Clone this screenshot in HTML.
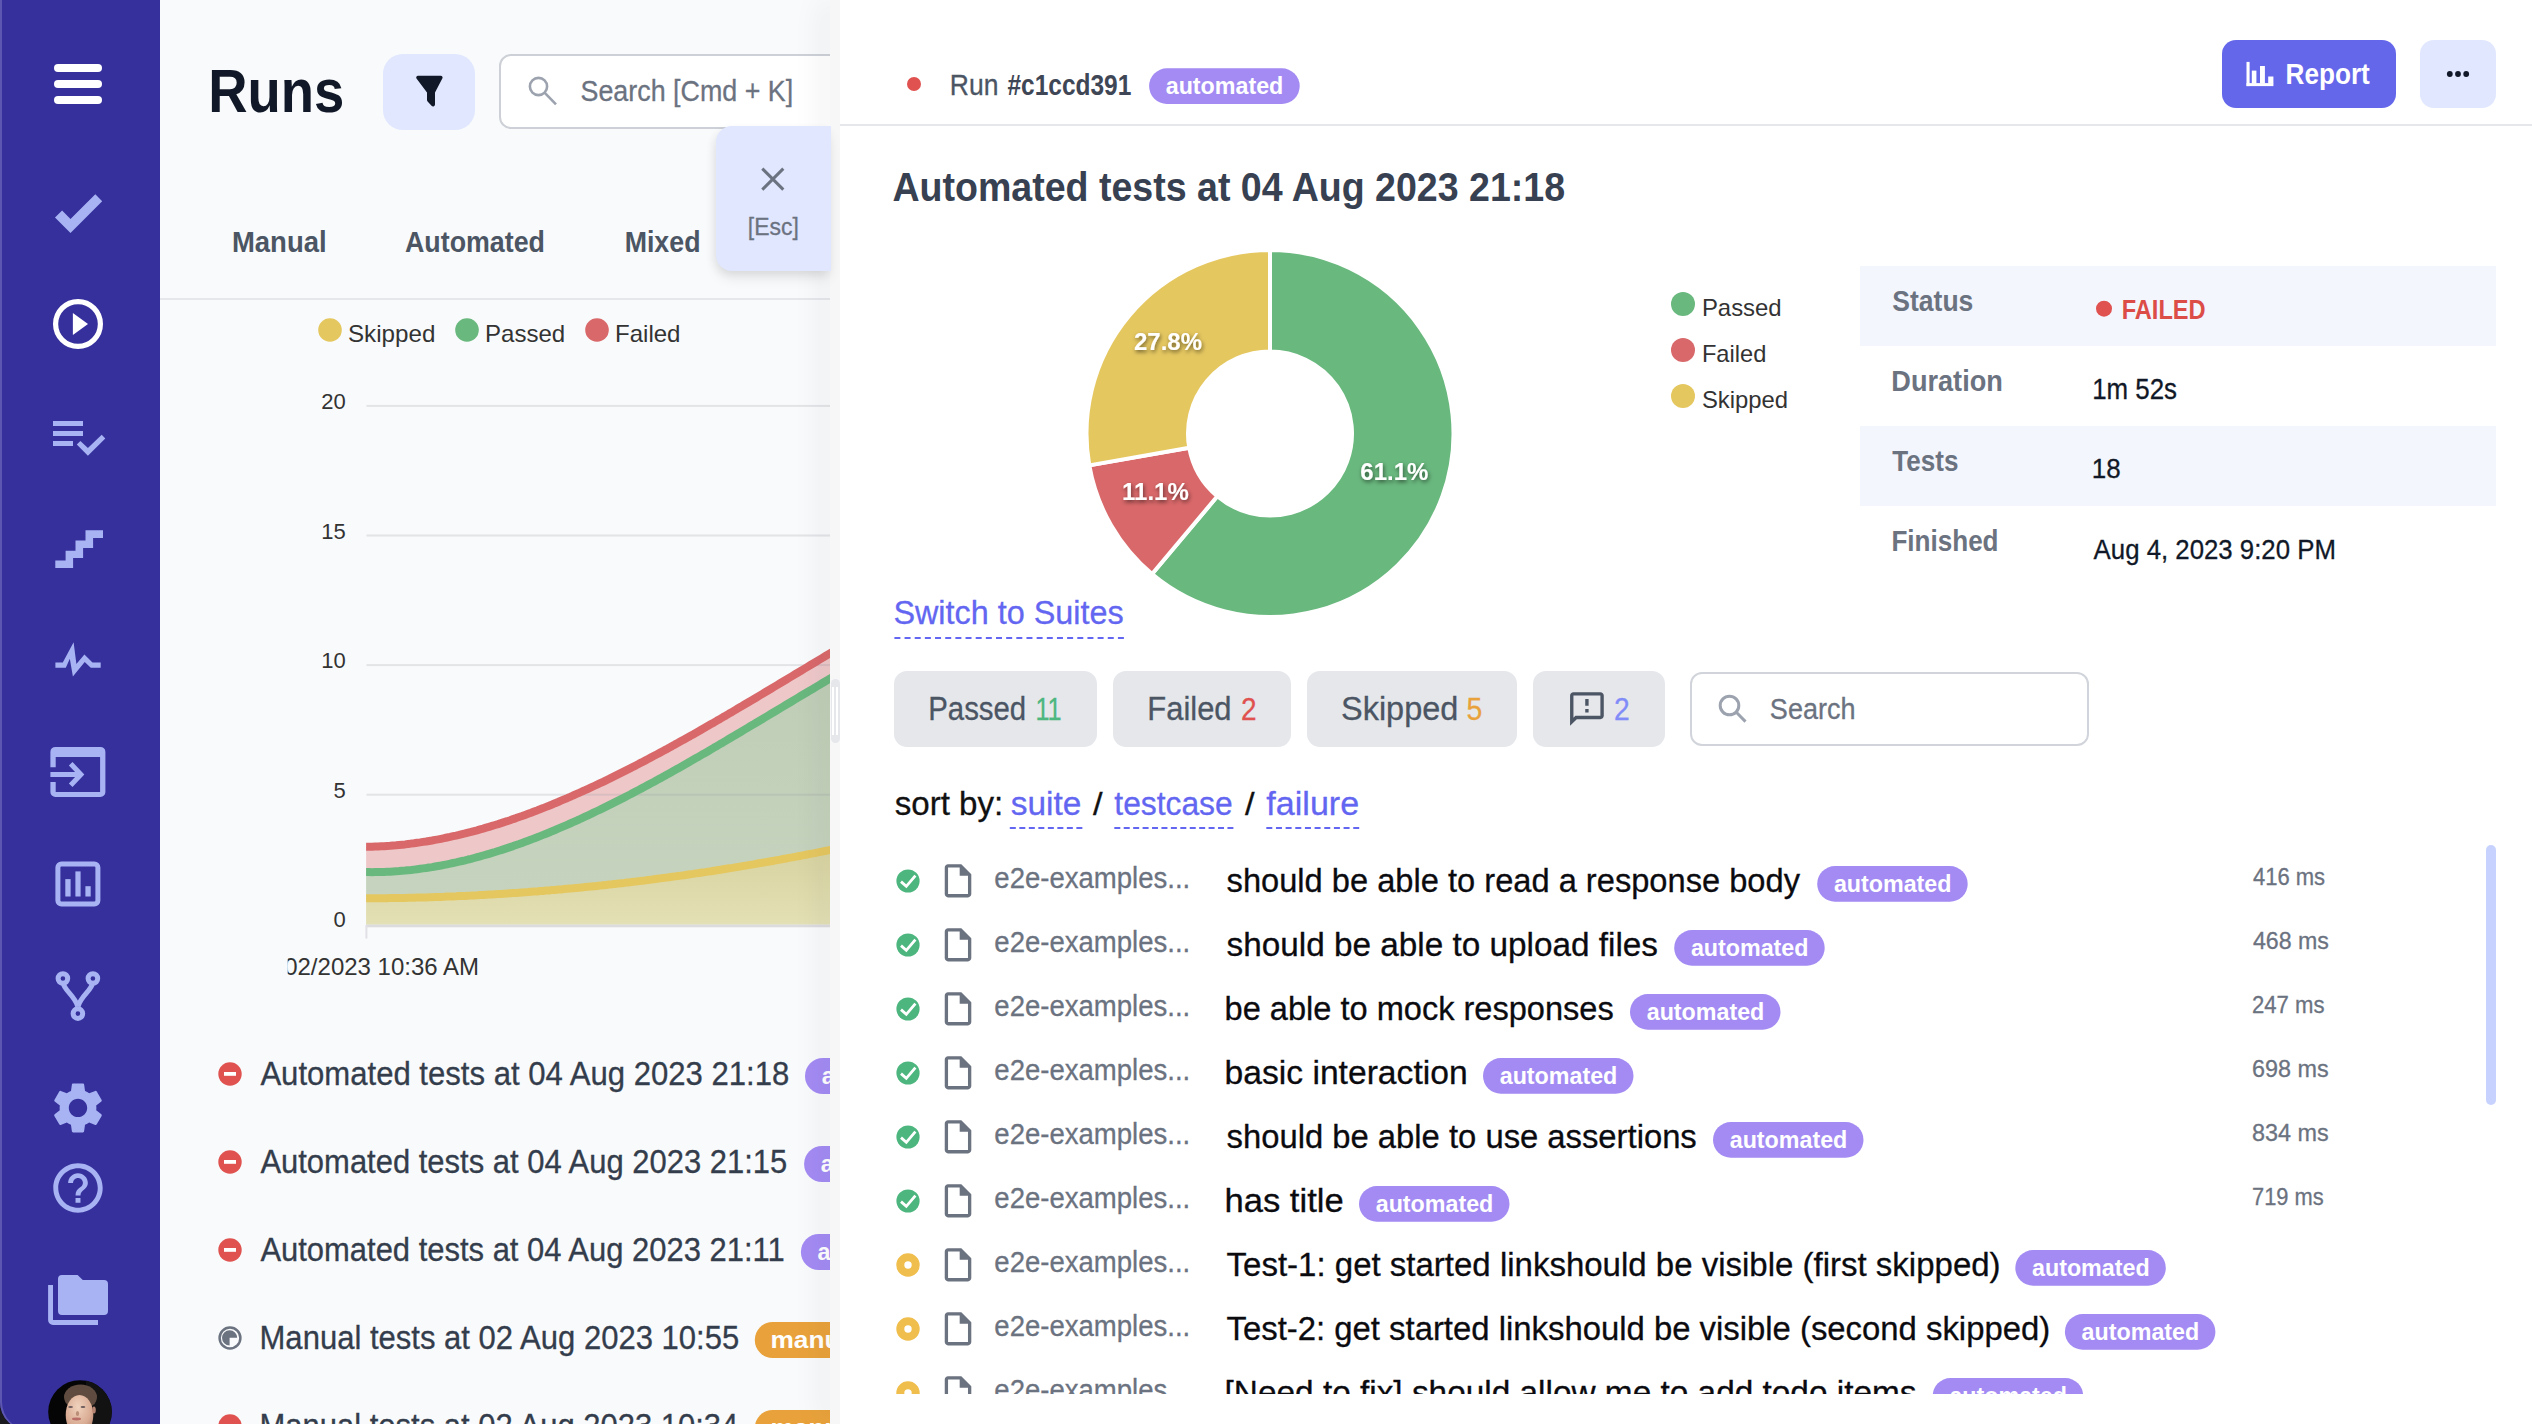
<!DOCTYPE html>
<html lang="en"><head><meta charset="utf-8"><title>Runs</title><style>
html,body{margin:0;padding:0;background:#fff;}
body{width:2532px;height:1424px;overflow:hidden;font-family:"Liberation Sans", Arial, Helvetica, sans-serif;}
#app{position:relative;width:2532px;height:1424px;overflow:hidden;background:#1b1b1f;}
.abs{position:absolute;}
.ov{position:absolute;left:0;top:0;overflow:hidden;}
.ov text{font-family:"Liberation Sans", Arial, Helvetica, sans-serif;}
#sidebar{position:absolute;left:0;top:0;width:160px;height:1430px;background:#36309c;border-bottom-left-radius:28px;overflow:hidden;box-shadow:inset 2px 0 0 #5d57b2;}
#main{position:absolute;left:160px;top:0;width:670px;height:1424px;background:#f9fafb;overflow:hidden;}
#strip{position:absolute;left:830px;top:0;width:10px;height:1424px;background:#f7f7f8;box-shadow:-6px 0 30px rgba(40,40,60,0.11);}
#drawer{position:absolute;left:840px;top:0;width:1692px;height:1424px;background:#fff;overflow:hidden;}
</style></head><body><div id="app"><div id="sidebar"><svg class="ov" width="160" height="1424" viewBox="0 0 160 1424"><line x1="58" y1="68" x2="98" y2="68" stroke="#fff" stroke-width="8" stroke-linecap="round"/><line x1="58" y1="84" x2="98" y2="84" stroke="#fff" stroke-width="8" stroke-linecap="round"/><line x1="58" y1="100" x2="98" y2="100" stroke="#fff" stroke-width="8" stroke-linecap="round"/><polygon points="55,217.5 62.1,210.6 70.5,218.9 95.3,194.2 102.2,201.3 70.5,233" fill="#a8b3f3"/><circle cx="78" cy="324" r="22.4" fill="none" stroke="#fff" stroke-width="5.2"/><polygon points="72.9,312.9 88,323.9 72.9,335.1" fill="#fff"/><rect x="53" y="421" width="30" height="5" fill="#a8b3f3"/><rect x="53" y="431" width="30" height="5" fill="#a8b3f3"/><rect x="53" y="441" width="20" height="5" fill="#a8b3f3"/><polygon points="76.8,444.4 80.4,440.9 87.9,448 101.7,434.8 105.3,438.4 87.9,455.8" fill="#a8b3f3"/><polygon points="55.3,560.5 65.6,560.5 65.6,550.7 75.5,550.7 75.5,540.6 85.5,540.6 85.5,530.3 103,530.3 103,538 93.1,538 93.1,548 83.1,548 83.1,558 73.1,558 73.1,568 55.3,568" fill="#a8b3f3"/><polygon points="55.4,662.4 62.8,662.4 73.6,642.2 76.4,664.1 84.4,654.4 92.5,662.4 100.7,662.4 100.7,667.8 90.8,667.8 84.7,661.9 72.9,676.5 69.8,658.8 65.8,667.8 55.4,667.8" fill="#a8b3f3"/><path d="M50.4,767.3 V751.9 a5,5 0 0 1 5,-5 H100.4 a5,5 0 0 1 5,5 V792 a5,5 0 0 1 -5,5 H55.4 a5,5 0 0 1 -5,-5 V782 h5.3 v10 H100.1 V757 H55.7 v10.3 z" fill="#a8b3f3"/><rect x="50.4" y="772" width="30" height="5" fill="#a8b3f3"/><polyline points="70.7,763.7 80.9,774.5 70.7,785.3" fill="none" stroke="#a8b3f3" stroke-width="5" stroke-linejoin="miter" stroke-miterlimit="4"/><rect x="57.9" y="863.9" width="40" height="40.1" rx="3.5" fill="none" stroke="#a8b3f3" stroke-width="5"/><rect x="65.3" y="879.1" width="5.3" height="17.4" fill="#a8b3f3"/><rect x="75.4" y="871.4" width="5.2" height="25.1" fill="#a8b3f3"/><rect x="85.4" y="886.2" width="5.3" height="10.3" fill="#a8b3f3"/><g fill="none" stroke="#a8b3f3" stroke-width="5"><circle cx="62.9" cy="978.5" r="4.8"/><circle cx="92.9" cy="978.5" r="4.8"/><circle cx="77.9" cy="1013.6" r="4.8"/><path d="M63.4,983.5 C64,990 75,996 77.8,1006.5"/><path d="M92.4,983.5 C91.8,990 80.8,996 78,1006.5"/></g><path transform="translate(78 1107.9) scale(2.55) translate(-12 -12)" d="M19.14,12.94c0.04-0.3,0.06-0.61,0.06-0.94c0-0.32-0.02-0.64-0.07-0.94l2.03-1.58c0.18-0.14,0.23-0.41,0.12-0.61 l-1.92-3.32c-0.12-0.22-0.37-0.29-0.59-0.22l-2.39,0.96c-0.5-0.38-1.03-0.7-1.62-0.94L14.4,2.81c-0.04-0.24-0.24-0.41-0.48-0.41 h-3.84c-0.24,0-0.43,0.17-0.47,0.41L9.25,5.35C8.66,5.59,8.12,5.92,7.63,6.29L5.24,5.33c-0.22-0.08-0.47,0-0.59,0.22L2.74,8.87 C2.62,9.08,2.66,9.34,2.86,9.48l2.03,1.58C4.84,11.36,4.8,11.69,4.8,12s0.02,0.64,0.07,0.94l-2.03,1.58 c-0.18,0.14-0.23,0.41-0.12,0.61l1.92,3.32c0.12,0.22,0.37,0.29,0.59,0.22l2.39-0.96c0.5,0.38,1.03,0.7,1.62,0.94l0.36,2.54 c0.05,0.24,0.24,0.41,0.48,0.41h3.84c0.24,0,0.44-0.17,0.47-0.41l0.36-2.54c0.59-0.24,1.13-0.56,1.62-0.94l2.39,0.96 c0.22,0.08,0.47,0,0.59-0.22l1.92-3.32c0.12-0.22,0.07-0.47-0.12-0.61L19.14,12.94z M12,15.6c-1.98,0-3.6-1.62-3.6-3.6 s1.62-3.6,3.6-3.6s3.6,1.62,3.6,3.6S13.98,15.6,12,15.6z" fill="#a8b3f3"/><path transform="translate(78 1188) scale(2.47) translate(-12 -12)" d="M11 18h2v-2h-2v2zm1-16C6.48 2 2 6.48 2 12s4.48 10 10 10 10-4.48 10-10S17.52 2 12 2zm0 18c-4.41 0-8-3.59-8-8s3.59-8 8-8 8 3.59 8 8-3.59 8-8 8zm0-14c-2.21 0-4 1.79-4 4h2c0-1.1.9-2 2-2s2 .9 2 2c0 2-3 1.75-3 5h2c0-2.25 3-2.5 3-5 0-2.21-1.79-4-4-4z" fill="#a8b3f3"/><path d="M62,1274.9 H77.6 L82.8,1279.9 H104 a4,4 0 0 1 4,4 V1311 a4,4 0 0 1 -4,4 H62 a4,4 0 0 1 -4,-4 V1278.9 a4,4 0 0 1 4,-4 z" fill="#a8b3f3"/><path d="M48.1,1285 H53 V1320 H98 V1324.9 H53 a4.9,4.9 0 0 1 -4.9,-4.9 z" fill="#a8b3f3"/><clipPath id="avc"><circle cx="80" cy="1412" r="31.8"/></clipPath><radialGradient id="skin" cx="0.45" cy="0.3" r="0.8"><stop offset="0" stop-color="#f0d2bd"/><stop offset="0.6" stop-color="#d9ab93"/><stop offset="1" stop-color="#a87a66"/></radialGradient><g clip-path="url(#avc)"><rect x="40" y="1375" width="80" height="60" fill="#050505"/><rect x="86" y="1375" width="34" height="60" fill="#121212"/><ellipse cx="80.5" cy="1397" rx="16.5" ry="12.5" fill="#5f4b3f"/><ellipse cx="79.5" cy="1415" rx="13.8" ry="20" fill="url(#skin)"/><path d="M65,1398 Q70,1386 81,1387 Q93,1388 96,1400 L94,1405 Q92,1395 84,1393 Q74,1392 67,1399 z" fill="#5f4b3f"/><ellipse cx="70.6" cy="1407" rx="2.4" ry="1.1" fill="#6a5a5a"/><ellipse cx="83" cy="1407" rx="2.4" ry="1.1" fill="#6a5a5a"/><ellipse cx="77.5" cy="1413.5" rx="1.6" ry="2.6" fill="#a6765f" opacity="0.7"/><ellipse cx="76.5" cy="1419" rx="4.6" ry="1.4" fill="#b96f68"/><ellipse cx="94" cy="1410" rx="1.8" ry="3.5" fill="#b58472"/></g></svg></div>
<div id="main"><div class="abs" style="left:223.0px;top:54.0px;width:92.0px;height:76.0px;background:#e0e7ff;border-radius:20px;"></div><div class="abs" style="left:339.2px;top:54.2px;width:380.8px;height:75.1px;background:#fff;border:2px solid #cdd1d7;border-radius:12px;box-sizing:border-box;"></div><div class="abs" style="left:0.0px;top:298.2px;width:670.0px;height:2.0px;background:#e5e7eb;"></div><svg class="ov" width="670" height="1424" viewBox="160 0 670 1424"><path d="M416.5,78.5 a1.8,1.8 0 0 1 1.5,-2.8 H440.8 a1.8,1.8 0 0 1 1.5,2.8 L435,92.6 V104.5 a2,2 0 0 1 -3.2,1.6 L427.6,101.5 a2,2 0 0 1 -0.6,-1.4 V92.6 z" fill="#111827"/><g fill="none" stroke="#9ca3af" stroke-width="2.6"><circle cx="538.5" cy="86.5" r="8.6"/><line x1="544.8" y1="92.8" x2="556" y2="104.3"/></g><text x="580.47" y="101.10" font-size="28.84" fill="#6b7280" textLength="212.80" lengthAdjust="spacingAndGlyphs" stroke="#6b7280" stroke-width="0.3">Search [Cmd + K]</text><text x="208.28" y="112.00" font-size="61.8" fill="#111827" font-weight="700" textLength="136.11" lengthAdjust="spacingAndGlyphs">Runs</text><text x="231.95" y="252.40" font-size="28.84" fill="#4b5563" font-weight="700" textLength="94.67" lengthAdjust="spacingAndGlyphs">Manual</text><text x="405.00" y="252.40" font-size="28.84" fill="#4b5563" font-weight="700" textLength="139.90" lengthAdjust="spacingAndGlyphs">Automated</text><text x="624.67" y="252.40" font-size="28.84" fill="#4b5563" font-weight="700" textLength="75.82" lengthAdjust="spacingAndGlyphs">Mixed</text><circle cx="330" cy="330" r="11.8" fill="#e5c760"/><text x="347.99" y="342.00" font-size="24" fill="#333" textLength="87.36" lengthAdjust="spacingAndGlyphs">Skipped</text><circle cx="467" cy="330" r="11.8" fill="#69b87e"/><text x="485.00" y="342.00" font-size="24" fill="#333" textLength="80.15" lengthAdjust="spacingAndGlyphs">Passed</text><circle cx="597" cy="330" r="11.8" fill="#d9686a"/><text x="615.00" y="342.00" font-size="24" fill="#333" textLength="65.45" lengthAdjust="spacingAndGlyphs">Failed</text><text x="345.70" y="409.00" font-size="22" fill="#333" text-anchor="end">20</text><text x="345.70" y="538.60" font-size="22" fill="#333" text-anchor="end">15</text><text x="345.70" y="668.20" font-size="22" fill="#333" text-anchor="end">10</text><text x="345.70" y="797.80" font-size="22" fill="#333" text-anchor="end">5</text><text x="345.70" y="927.40" font-size="22" fill="#333" text-anchor="end">0</text><polygon points="366.1,846.8 369.1,846.8 372.1,846.7 375.1,846.6 378.1,846.5 381.1,846.3 384.1,846.2 387.1,846.0 390.1,845.8 393.1,845.5 396.1,845.3 399.1,845.0 402.1,844.7 405.1,844.4 408.1,844.0 411.1,843.6 414.1,843.3 417.1,842.8 420.1,842.4 423.1,841.9 426.1,841.5 429.1,841.0 432.1,840.5 435.1,839.9 438.1,839.4 441.1,838.8 444.1,838.2 447.1,837.5 450.1,836.9 453.1,836.2 456.1,835.6 459.1,834.9 462.1,834.1 465.1,833.4 468.1,832.6 471.1,831.9 474.1,831.1 477.1,830.3 480.1,829.4 483.1,828.6 486.1,827.7 489.1,826.8 492.1,825.9 495.1,825.0 498.1,824.1 501.1,823.1 504.1,822.1 507.1,821.2 510.1,820.2 513.1,819.1 516.1,818.1 519.1,817.0 522.1,816.0 525.1,814.9 528.1,813.8 531.1,812.7 534.1,811.5 537.1,810.4 540.1,809.2 543.1,808.1 546.1,806.9 549.1,805.7 552.1,804.5 555.1,803.2 558.1,802.0 561.1,800.7 564.1,799.4 567.1,798.2 570.1,796.9 573.1,795.5 576.1,794.2 579.1,792.9 582.1,791.5 585.1,790.2 588.1,788.8 591.1,787.4 594.1,786.0 597.1,784.6 600.1,783.2 603.1,781.8 606.1,780.3 609.1,778.9 612.1,777.4 615.1,775.9 618.1,774.4 621.1,772.9 624.1,771.4 627.1,769.9 630.1,768.4 633.1,766.8 636.1,765.3 639.1,763.7 642.1,762.2 645.1,760.6 648.1,759.0 651.1,757.4 654.1,755.8 657.1,754.2 660.1,752.6 663.1,751.0 666.1,749.4 669.1,747.7 672.1,746.1 675.1,744.4 678.1,742.8 681.1,741.1 684.1,739.4 687.1,737.7 690.1,736.1 693.1,734.4 696.1,732.7 699.1,731.0 702.1,729.2 705.1,727.5 708.1,725.8 711.1,724.1 714.1,722.4 717.1,720.6 720.1,718.9 723.1,717.1 726.1,715.4 729.1,713.6 732.1,711.9 735.1,710.1 738.1,708.3 741.1,706.6 744.1,704.8 747.1,703.0 750.1,701.2 753.1,699.5 756.1,697.7 759.1,695.9 762.1,694.1 765.1,692.3 768.1,690.5 771.1,688.7 774.1,686.9 777.1,685.1 780.1,683.3 783.1,681.5 786.1,679.7 789.1,677.9 792.1,676.1 795.1,674.3 798.1,672.5 801.1,670.7 804.1,668.9 807.1,667.1 810.1,665.3 813.1,663.5 816.1,661.7 819.1,659.9 822.1,658.1 825.1,656.3 828.1,654.5 831.1,652.7 834.1,650.9 836.0,649.8 836.0,675.1 834.1,676.2 831.1,678.0 828.1,679.8 825.1,681.5 822.1,683.3 819.1,685.1 816.1,686.9 813.1,688.7 810.1,690.4 807.1,692.2 804.1,694.0 801.1,695.8 798.1,697.6 795.1,699.4 792.1,701.2 789.1,703.0 786.1,704.8 783.1,706.6 780.1,708.4 777.1,710.2 774.1,712.0 771.1,713.8 768.1,715.6 765.1,717.4 762.1,719.2 759.1,721.0 756.1,722.8 753.1,724.6 750.1,726.3 747.1,728.1 744.1,729.9 741.1,731.7 738.1,733.5 735.1,735.3 732.1,737.0 729.1,738.8 726.1,740.6 723.1,742.4 720.1,744.1 717.1,745.9 714.1,747.6 711.1,749.4 708.1,751.2 705.1,752.9 702.1,754.6 699.1,756.4 696.1,758.1 693.1,759.8 690.1,761.5 687.1,763.3 684.1,765.0 681.1,766.7 678.1,768.4 675.1,770.0 672.1,771.7 669.1,773.4 666.1,775.1 663.1,776.7 660.1,778.4 657.1,780.0 654.1,781.7 651.1,783.3 648.1,784.9 645.1,786.5 642.1,788.1 639.1,789.7 636.1,791.3 633.1,792.9 630.1,794.5 627.1,796.0 624.1,797.6 621.1,799.1 618.1,800.6 615.1,802.1 612.1,803.6 609.1,805.1 606.1,806.6 603.1,808.1 600.1,809.6 597.1,811.0 594.1,812.4 591.1,813.9 588.1,815.3 585.1,816.7 582.1,818.1 579.1,819.5 576.1,820.8 573.1,822.2 570.1,823.5 567.1,824.8 564.1,826.1 561.1,827.4 558.1,828.7 555.1,830.0 552.1,831.2 549.1,832.5 546.1,833.7 543.1,834.9 540.1,836.1 537.1,837.3 534.1,838.4 531.1,839.6 528.1,840.7 525.1,841.8 522.1,842.9 519.1,844.0 516.1,845.0 513.1,846.1 510.1,847.1 507.1,848.1 504.1,849.1 501.1,850.1 498.1,851.0 495.1,852.0 492.1,852.9 489.1,853.8 486.1,854.7 483.1,855.5 480.1,856.4 477.1,857.2 474.1,858.0 471.1,858.8 468.1,859.5 465.1,860.3 462.1,861.0 459.1,861.7 456.1,862.4 453.1,863.0 450.1,863.7 447.1,864.3 444.1,864.9 441.1,865.5 438.1,866.0 435.1,866.5 432.1,867.1 429.1,867.5 426.1,868.0 423.1,868.4 420.1,868.8 417.1,869.2 414.1,869.6 411.1,870.0 408.1,870.3 405.1,870.6 402.1,870.8 399.1,871.1 396.1,871.3 393.1,871.5 390.1,871.7 387.1,871.8 384.1,871.9 381.1,872.0 378.1,872.1 375.1,872.1 372.1,872.2 369.1,872.1 366.1,872.1" fill="#eec8c9"/><linearGradient id="gbe" gradientUnits="userSpaceOnUse" x1="0" y1="845" x2="0" y2="925"><stop offset="0" stop-color="#d7d29f"/><stop offset="1" stop-color="#e3e0b5"/></linearGradient><linearGradient id="ggr" gradientUnits="userSpaceOnUse" x1="0" y1="660" x2="0" y2="900"><stop offset="0" stop-color="#bfcdb6"/><stop offset="1" stop-color="#c6d4bf"/></linearGradient><polygon points="366.1,872.1 369.1,872.1 372.1,872.2 375.1,872.1 378.1,872.1 381.1,872.0 384.1,871.9 387.1,871.8 390.1,871.7 393.1,871.5 396.1,871.3 399.1,871.1 402.1,870.8 405.1,870.6 408.1,870.3 411.1,870.0 414.1,869.6 417.1,869.2 420.1,868.8 423.1,868.4 426.1,868.0 429.1,867.5 432.1,867.1 435.1,866.5 438.1,866.0 441.1,865.5 444.1,864.9 447.1,864.3 450.1,863.7 453.1,863.0 456.1,862.4 459.1,861.7 462.1,861.0 465.1,860.3 468.1,859.5 471.1,858.8 474.1,858.0 477.1,857.2 480.1,856.4 483.1,855.5 486.1,854.7 489.1,853.8 492.1,852.9 495.1,852.0 498.1,851.0 501.1,850.1 504.1,849.1 507.1,848.1 510.1,847.1 513.1,846.1 516.1,845.0 519.1,844.0 522.1,842.9 525.1,841.8 528.1,840.7 531.1,839.6 534.1,838.4 537.1,837.3 540.1,836.1 543.1,834.9 546.1,833.7 549.1,832.5 552.1,831.2 555.1,830.0 558.1,828.7 561.1,827.4 564.1,826.1 567.1,824.8 570.1,823.5 573.1,822.2 576.1,820.8 579.1,819.5 582.1,818.1 585.1,816.7 588.1,815.3 591.1,813.9 594.1,812.4 597.1,811.0 600.1,809.6 603.1,808.1 606.1,806.6 609.1,805.1 612.1,803.6 615.1,802.1 618.1,800.6 621.1,799.1 624.1,797.6 627.1,796.0 630.1,794.5 633.1,792.9 636.1,791.3 639.1,789.7 642.1,788.1 645.1,786.5 648.1,784.9 651.1,783.3 654.1,781.7 657.1,780.0 660.1,778.4 663.1,776.7 666.1,775.1 669.1,773.4 672.1,771.7 675.1,770.0 678.1,768.4 681.1,766.7 684.1,765.0 687.1,763.3 690.1,761.5 693.1,759.8 696.1,758.1 699.1,756.4 702.1,754.6 705.1,752.9 708.1,751.2 711.1,749.4 714.1,747.6 717.1,745.9 720.1,744.1 723.1,742.4 726.1,740.6 729.1,738.8 732.1,737.0 735.1,735.3 738.1,733.5 741.1,731.7 744.1,729.9 747.1,728.1 750.1,726.3 753.1,724.6 756.1,722.8 759.1,721.0 762.1,719.2 765.1,717.4 768.1,715.6 771.1,713.8 774.1,712.0 777.1,710.2 780.1,708.4 783.1,706.6 786.1,704.8 789.1,703.0 792.1,701.2 795.1,699.4 798.1,697.6 801.1,695.8 804.1,694.0 807.1,692.2 810.1,690.4 813.1,688.7 816.1,686.9 819.1,685.1 822.1,683.3 825.1,681.5 828.1,679.8 831.1,678.0 834.1,676.2 836.0,675.1 836.0,848.8 834.1,849.1 831.1,849.8 828.1,850.4 825.1,851.0 822.1,851.6 819.1,852.2 816.1,852.8 813.1,853.4 810.1,853.9 807.1,854.5 804.1,855.1 801.1,855.7 798.1,856.2 795.1,856.8 792.1,857.4 789.1,857.9 786.1,858.5 783.1,859.0 780.1,859.6 777.1,860.1 774.1,860.7 771.1,861.2 768.1,861.7 765.1,862.3 762.1,862.8 759.1,863.3 756.1,863.8 753.1,864.4 750.1,864.9 747.1,865.4 744.1,865.9 741.1,866.4 738.1,866.9 735.1,867.4 732.1,867.9 729.1,868.3 726.1,868.8 723.1,869.3 720.1,869.8 717.1,870.2 714.1,870.7 711.1,871.2 708.1,871.6 705.1,872.1 702.1,872.5 699.1,873.0 696.1,873.4 693.1,873.9 690.1,874.3 687.1,874.7 684.1,875.2 681.1,875.6 678.1,876.0 675.1,876.4 672.1,876.8 669.1,877.2 666.1,877.6 663.1,878.0 660.1,878.4 657.1,878.8 654.1,879.2 651.1,879.6 648.1,880.0 645.1,880.4 642.1,880.7 639.1,881.1 636.1,881.5 633.1,881.8 630.1,882.2 627.1,882.5 624.1,882.9 621.1,883.2 618.1,883.6 615.1,883.9 612.1,884.3 609.1,884.6 606.1,884.9 603.1,885.2 600.1,885.6 597.1,885.9 594.1,886.2 591.1,886.5 588.1,886.8 585.1,887.1 582.1,887.4 579.1,887.7 576.1,888.0 573.1,888.3 570.1,888.5 567.1,888.8 564.1,889.1 561.1,889.4 558.1,889.6 555.1,889.9 552.1,890.1 549.1,890.4 546.1,890.6 543.1,890.9 540.1,891.1 537.1,891.4 534.1,891.6 531.1,891.8 528.1,892.1 525.1,892.3 522.1,892.5 519.1,892.7 516.1,892.9 513.1,893.1 510.1,893.3 507.1,893.5 504.1,893.7 501.1,893.9 498.1,894.1 495.1,894.3 492.1,894.5 489.1,894.6 486.1,894.8 483.1,895.0 480.1,895.1 477.1,895.3 474.1,895.4 471.1,895.6 468.1,895.7 465.1,895.9 462.1,896.0 459.1,896.1 456.1,896.3 453.1,896.4 450.1,896.5 447.1,896.6 444.1,896.8 441.1,896.9 438.1,897.0 435.1,897.1 432.1,897.2 429.1,897.3 426.1,897.4 423.1,897.4 420.1,897.5 417.1,897.6 414.1,897.7 411.1,897.7 408.1,897.8 405.1,897.9 402.1,897.9 399.1,898.0 396.1,898.0 393.1,898.1 390.1,898.1 387.1,898.2 384.1,898.2 381.1,898.2 378.1,898.2 375.1,898.3 372.1,898.3 369.1,898.3 366.1,898.3" fill="url(#ggr)"/><polygon points="366.1,898.3 369.1,898.3 372.1,898.3 375.1,898.3 378.1,898.2 381.1,898.2 384.1,898.2 387.1,898.2 390.1,898.1 393.1,898.1 396.1,898.0 399.1,898.0 402.1,897.9 405.1,897.9 408.1,897.8 411.1,897.7 414.1,897.7 417.1,897.6 420.1,897.5 423.1,897.4 426.1,897.4 429.1,897.3 432.1,897.2 435.1,897.1 438.1,897.0 441.1,896.9 444.1,896.8 447.1,896.6 450.1,896.5 453.1,896.4 456.1,896.3 459.1,896.1 462.1,896.0 465.1,895.9 468.1,895.7 471.1,895.6 474.1,895.4 477.1,895.3 480.1,895.1 483.1,895.0 486.1,894.8 489.1,894.6 492.1,894.5 495.1,894.3 498.1,894.1 501.1,893.9 504.1,893.7 507.1,893.5 510.1,893.3 513.1,893.1 516.1,892.9 519.1,892.7 522.1,892.5 525.1,892.3 528.1,892.1 531.1,891.8 534.1,891.6 537.1,891.4 540.1,891.1 543.1,890.9 546.1,890.6 549.1,890.4 552.1,890.1 555.1,889.9 558.1,889.6 561.1,889.4 564.1,889.1 567.1,888.8 570.1,888.5 573.1,888.3 576.1,888.0 579.1,887.7 582.1,887.4 585.1,887.1 588.1,886.8 591.1,886.5 594.1,886.2 597.1,885.9 600.1,885.6 603.1,885.2 606.1,884.9 609.1,884.6 612.1,884.3 615.1,883.9 618.1,883.6 621.1,883.2 624.1,882.9 627.1,882.5 630.1,882.2 633.1,881.8 636.1,881.5 639.1,881.1 642.1,880.7 645.1,880.4 648.1,880.0 651.1,879.6 654.1,879.2 657.1,878.8 660.1,878.4 663.1,878.0 666.1,877.6 669.1,877.2 672.1,876.8 675.1,876.4 678.1,876.0 681.1,875.6 684.1,875.2 687.1,874.7 690.1,874.3 693.1,873.9 696.1,873.4 699.1,873.0 702.1,872.5 705.1,872.1 708.1,871.6 711.1,871.2 714.1,870.7 717.1,870.2 720.1,869.8 723.1,869.3 726.1,868.8 729.1,868.3 732.1,867.9 735.1,867.4 738.1,866.9 741.1,866.4 744.1,865.9 747.1,865.4 750.1,864.9 753.1,864.4 756.1,863.8 759.1,863.3 762.1,862.8 765.1,862.3 768.1,861.7 771.1,861.2 774.1,860.7 777.1,860.1 780.1,859.6 783.1,859.0 786.1,858.5 789.1,857.9 792.1,857.4 795.1,856.8 798.1,856.2 801.1,855.7 804.1,855.1 807.1,854.5 810.1,853.9 813.1,853.4 816.1,852.8 819.1,852.2 822.1,851.6 825.1,851.0 828.1,850.4 831.1,849.8 834.1,849.1 836.0,848.8 836.0,924.7 366.1,924.7" fill="url(#gbe)"/><rect x="366.5" y="404.9" width="470" height="2" fill="rgba(150,150,160,0.22)"/><rect x="366.5" y="534.5" width="470" height="2" fill="rgba(150,150,160,0.22)"/><rect x="366.5" y="664.1" width="470" height="2" fill="rgba(150,150,160,0.22)"/><rect x="366.5" y="793.7" width="470" height="2" fill="rgba(150,150,160,0.22)"/><rect x="366" y="924.6" width="470" height="2.7" fill="#dcdcdf"/><rect x="365.4" y="925" width="2" height="13.6" fill="#e0e0e6"/><polyline points="366.1,898.3 369.1,898.3 372.1,898.3 375.1,898.3 378.1,898.2 381.1,898.2 384.1,898.2 387.1,898.2 390.1,898.1 393.1,898.1 396.1,898.0 399.1,898.0 402.1,897.9 405.1,897.9 408.1,897.8 411.1,897.7 414.1,897.7 417.1,897.6 420.1,897.5 423.1,897.4 426.1,897.4 429.1,897.3 432.1,897.2 435.1,897.1 438.1,897.0 441.1,896.9 444.1,896.8 447.1,896.6 450.1,896.5 453.1,896.4 456.1,896.3 459.1,896.1 462.1,896.0 465.1,895.9 468.1,895.7 471.1,895.6 474.1,895.4 477.1,895.3 480.1,895.1 483.1,895.0 486.1,894.8 489.1,894.6 492.1,894.5 495.1,894.3 498.1,894.1 501.1,893.9 504.1,893.7 507.1,893.5 510.1,893.3 513.1,893.1 516.1,892.9 519.1,892.7 522.1,892.5 525.1,892.3 528.1,892.1 531.1,891.8 534.1,891.6 537.1,891.4 540.1,891.1 543.1,890.9 546.1,890.6 549.1,890.4 552.1,890.1 555.1,889.9 558.1,889.6 561.1,889.4 564.1,889.1 567.1,888.8 570.1,888.5 573.1,888.3 576.1,888.0 579.1,887.7 582.1,887.4 585.1,887.1 588.1,886.8 591.1,886.5 594.1,886.2 597.1,885.9 600.1,885.6 603.1,885.2 606.1,884.9 609.1,884.6 612.1,884.3 615.1,883.9 618.1,883.6 621.1,883.2 624.1,882.9 627.1,882.5 630.1,882.2 633.1,881.8 636.1,881.5 639.1,881.1 642.1,880.7 645.1,880.4 648.1,880.0 651.1,879.6 654.1,879.2 657.1,878.8 660.1,878.4 663.1,878.0 666.1,877.6 669.1,877.2 672.1,876.8 675.1,876.4 678.1,876.0 681.1,875.6 684.1,875.2 687.1,874.7 690.1,874.3 693.1,873.9 696.1,873.4 699.1,873.0 702.1,872.5 705.1,872.1 708.1,871.6 711.1,871.2 714.1,870.7 717.1,870.2 720.1,869.8 723.1,869.3 726.1,868.8 729.1,868.3 732.1,867.9 735.1,867.4 738.1,866.9 741.1,866.4 744.1,865.9 747.1,865.4 750.1,864.9 753.1,864.4 756.1,863.8 759.1,863.3 762.1,862.8 765.1,862.3 768.1,861.7 771.1,861.2 774.1,860.7 777.1,860.1 780.1,859.6 783.1,859.0 786.1,858.5 789.1,857.9 792.1,857.4 795.1,856.8 798.1,856.2 801.1,855.7 804.1,855.1 807.1,854.5 810.1,853.9 813.1,853.4 816.1,852.8 819.1,852.2 822.1,851.6 825.1,851.0 828.1,850.4 831.1,849.8 834.1,849.1 836.0,848.8" fill="none" stroke="#e5c760" stroke-width="8" stroke-linejoin="round"/><polyline points="366.1,872.1 369.1,872.1 372.1,872.2 375.1,872.1 378.1,872.1 381.1,872.0 384.1,871.9 387.1,871.8 390.1,871.7 393.1,871.5 396.1,871.3 399.1,871.1 402.1,870.8 405.1,870.6 408.1,870.3 411.1,870.0 414.1,869.6 417.1,869.2 420.1,868.8 423.1,868.4 426.1,868.0 429.1,867.5 432.1,867.1 435.1,866.5 438.1,866.0 441.1,865.5 444.1,864.9 447.1,864.3 450.1,863.7 453.1,863.0 456.1,862.4 459.1,861.7 462.1,861.0 465.1,860.3 468.1,859.5 471.1,858.8 474.1,858.0 477.1,857.2 480.1,856.4 483.1,855.5 486.1,854.7 489.1,853.8 492.1,852.9 495.1,852.0 498.1,851.0 501.1,850.1 504.1,849.1 507.1,848.1 510.1,847.1 513.1,846.1 516.1,845.0 519.1,844.0 522.1,842.9 525.1,841.8 528.1,840.7 531.1,839.6 534.1,838.4 537.1,837.3 540.1,836.1 543.1,834.9 546.1,833.7 549.1,832.5 552.1,831.2 555.1,830.0 558.1,828.7 561.1,827.4 564.1,826.1 567.1,824.8 570.1,823.5 573.1,822.2 576.1,820.8 579.1,819.5 582.1,818.1 585.1,816.7 588.1,815.3 591.1,813.9 594.1,812.4 597.1,811.0 600.1,809.6 603.1,808.1 606.1,806.6 609.1,805.1 612.1,803.6 615.1,802.1 618.1,800.6 621.1,799.1 624.1,797.6 627.1,796.0 630.1,794.5 633.1,792.9 636.1,791.3 639.1,789.7 642.1,788.1 645.1,786.5 648.1,784.9 651.1,783.3 654.1,781.7 657.1,780.0 660.1,778.4 663.1,776.7 666.1,775.1 669.1,773.4 672.1,771.7 675.1,770.0 678.1,768.4 681.1,766.7 684.1,765.0 687.1,763.3 690.1,761.5 693.1,759.8 696.1,758.1 699.1,756.4 702.1,754.6 705.1,752.9 708.1,751.2 711.1,749.4 714.1,747.6 717.1,745.9 720.1,744.1 723.1,742.4 726.1,740.6 729.1,738.8 732.1,737.0 735.1,735.3 738.1,733.5 741.1,731.7 744.1,729.9 747.1,728.1 750.1,726.3 753.1,724.6 756.1,722.8 759.1,721.0 762.1,719.2 765.1,717.4 768.1,715.6 771.1,713.8 774.1,712.0 777.1,710.2 780.1,708.4 783.1,706.6 786.1,704.8 789.1,703.0 792.1,701.2 795.1,699.4 798.1,697.6 801.1,695.8 804.1,694.0 807.1,692.2 810.1,690.4 813.1,688.7 816.1,686.9 819.1,685.1 822.1,683.3 825.1,681.5 828.1,679.8 831.1,678.0 834.1,676.2 836.0,675.1" fill="none" stroke="#69b87e" stroke-width="8" stroke-linejoin="round"/><polyline points="366.1,846.8 369.1,846.8 372.1,846.7 375.1,846.6 378.1,846.5 381.1,846.3 384.1,846.2 387.1,846.0 390.1,845.8 393.1,845.5 396.1,845.3 399.1,845.0 402.1,844.7 405.1,844.4 408.1,844.0 411.1,843.6 414.1,843.3 417.1,842.8 420.1,842.4 423.1,841.9 426.1,841.5 429.1,841.0 432.1,840.5 435.1,839.9 438.1,839.4 441.1,838.8 444.1,838.2 447.1,837.5 450.1,836.9 453.1,836.2 456.1,835.6 459.1,834.9 462.1,834.1 465.1,833.4 468.1,832.6 471.1,831.9 474.1,831.1 477.1,830.3 480.1,829.4 483.1,828.6 486.1,827.7 489.1,826.8 492.1,825.9 495.1,825.0 498.1,824.1 501.1,823.1 504.1,822.1 507.1,821.2 510.1,820.2 513.1,819.1 516.1,818.1 519.1,817.0 522.1,816.0 525.1,814.9 528.1,813.8 531.1,812.7 534.1,811.5 537.1,810.4 540.1,809.2 543.1,808.1 546.1,806.9 549.1,805.7 552.1,804.5 555.1,803.2 558.1,802.0 561.1,800.7 564.1,799.4 567.1,798.2 570.1,796.9 573.1,795.5 576.1,794.2 579.1,792.9 582.1,791.5 585.1,790.2 588.1,788.8 591.1,787.4 594.1,786.0 597.1,784.6 600.1,783.2 603.1,781.8 606.1,780.3 609.1,778.9 612.1,777.4 615.1,775.9 618.1,774.4 621.1,772.9 624.1,771.4 627.1,769.9 630.1,768.4 633.1,766.8 636.1,765.3 639.1,763.7 642.1,762.2 645.1,760.6 648.1,759.0 651.1,757.4 654.1,755.8 657.1,754.2 660.1,752.6 663.1,751.0 666.1,749.4 669.1,747.7 672.1,746.1 675.1,744.4 678.1,742.8 681.1,741.1 684.1,739.4 687.1,737.7 690.1,736.1 693.1,734.4 696.1,732.7 699.1,731.0 702.1,729.2 705.1,727.5 708.1,725.8 711.1,724.1 714.1,722.4 717.1,720.6 720.1,718.9 723.1,717.1 726.1,715.4 729.1,713.6 732.1,711.9 735.1,710.1 738.1,708.3 741.1,706.6 744.1,704.8 747.1,703.0 750.1,701.2 753.1,699.5 756.1,697.7 759.1,695.9 762.1,694.1 765.1,692.3 768.1,690.5 771.1,688.7 774.1,686.9 777.1,685.1 780.1,683.3 783.1,681.5 786.1,679.7 789.1,677.9 792.1,676.1 795.1,674.3 798.1,672.5 801.1,670.7 804.1,668.9 807.1,667.1 810.1,665.3 813.1,663.5 816.1,661.7 819.1,659.9 822.1,658.1 825.1,656.3 828.1,654.5 831.1,652.7 834.1,650.9 836.0,649.8" fill="none" stroke="#d9686a" stroke-width="8" stroke-linejoin="round"/><clipPath id="xlc"><rect x="287.7" y="940" width="400" height="60"/></clipPath><g clip-path="url(#xlc)"><text x="479.00" y="975.00" font-size="24" fill="#333" text-anchor="end">08/02/2023 10:36 AM</text></g><circle cx="230" cy="1074" r="11.7" fill="#df524f"/><rect x="224" y="1072.0" width="12" height="3.8" fill="#fff"/><text x="260.40" y="1084.90" font-size="32.96" fill="#343d4c" textLength="528.85" lengthAdjust="spacingAndGlyphs" stroke="#343d4c" stroke-width="0.3">Automated tests at 04 Aug 2023 21:18</text><rect x="805" y="1058" width="151" height="36" rx="18" fill="#a38bf3"/><text x="821.70" y="1084.30" font-size="24.72" fill="#fff" font-weight="700" textLength="118.04" lengthAdjust="spacingAndGlyphs">automated</text><circle cx="230" cy="1162" r="11.7" fill="#df524f"/><rect x="224" y="1160.0" width="12" height="3.8" fill="#fff"/><text x="260.40" y="1172.90" font-size="32.96" fill="#343d4c" textLength="526.84" lengthAdjust="spacingAndGlyphs" stroke="#343d4c" stroke-width="0.3">Automated tests at 04 Aug 2023 21:15</text><rect x="804.1" y="1146" width="151" height="36" rx="18" fill="#a38bf3"/><text x="820.80" y="1172.30" font-size="24.72" fill="#fff" font-weight="700" textLength="118.04" lengthAdjust="spacingAndGlyphs">automated</text><circle cx="230" cy="1250" r="11.7" fill="#df524f"/><rect x="224" y="1248.0" width="12" height="3.8" fill="#fff"/><text x="260.40" y="1260.90" font-size="32.96" fill="#343d4c" textLength="524.24" lengthAdjust="spacingAndGlyphs" stroke="#343d4c" stroke-width="0.3">Automated tests at 04 Aug 2023 21:11</text><rect x="800.9" y="1234" width="151" height="36" rx="18" fill="#a38bf3"/><text x="817.60" y="1260.30" font-size="24.72" fill="#fff" font-weight="700" textLength="118.04" lengthAdjust="spacingAndGlyphs">automated</text><circle cx="230" cy="1338" r="10.4" fill="none" stroke="#6b7280" stroke-width="2.5"/><path d="M229.6,1337.8 h7.6 a7.6,7.6 0 1 0 -7.6,7.6 z" fill="#6b7280"/><text x="259.52" y="1348.90" font-size="32.96" fill="#343d4c" textLength="479.72" lengthAdjust="spacingAndGlyphs" stroke="#343d4c" stroke-width="0.3">Manual tests at 02 Aug 2023 10:55</text><rect x="754.8" y="1322" width="151" height="36" rx="18" fill="#e9a23b"/><text x="770.44" y="1348.30" font-size="24.72" fill="#fff" font-weight="700" textLength="91.99" lengthAdjust="spacingAndGlyphs">manual</text><circle cx="230" cy="1426" r="11.7" fill="#df524f"/><rect x="224" y="1424.0" width="12" height="3.8" fill="#fff"/><text x="259.53" y="1436.90" font-size="32.96" fill="#343d4c" textLength="478.78" lengthAdjust="spacingAndGlyphs" stroke="#343d4c" stroke-width="0.3">Manual tests at 02 Aug 2023 10:34</text><rect x="754.8" y="1410" width="151" height="36" rx="18" fill="#e9a23b"/><text x="770.44" y="1436.30" font-size="24.72" fill="#fff" font-weight="700" textLength="91.99" lengthAdjust="spacingAndGlyphs">manual</text></svg></div>
<div id="strip"><div class="abs" style="left:0.5px;top:679px;width:9px;height:64px;border-radius:5px;background:#e5e7eb;"></div><div class="abs" style="left:2.3px;top:686.8px;width:1.7px;height:48px;background:#fff;"></div><div class="abs" style="left:6.1px;top:686.8px;width:1.8px;height:48px;background:#fff;"></div></div>
<div class="abs" style="left:716.2px;top:125.9px;width:115px;height:144.9px;background:#e0e7ff;border-radius:16px 0 0 16px;box-shadow:0 8px 14px -2px rgba(0,0,0,0.10),-3px 3px 8px rgba(0,0,0,0.05);"><svg class="ov" width="115" height="145" viewBox="716.2 125.9 115 145"><g stroke="#6b7280" stroke-width="3" stroke-linecap="butt"><line x1="762.5" y1="168.5" x2="783.5" y2="189.5"/><line x1="783.5" y1="168.5" x2="762.5" y2="189.5"/></g><text x="748.07" y="235.00" font-size="24.72" fill="#6b7280" textLength="51.03" lengthAdjust="spacingAndGlyphs" stroke="#6b7280" stroke-width="0.3">[Esc]</text></svg></div>
<div id="drawer"><div class="abs" style="left:0.0px;top:123.7px;width:1692.0px;height:2.0px;background:#e5e7eb;"></div><div class="abs" style="left:1382.0px;top:39.8px;width:174.0px;height:68.2px;background:#6467ea;border-radius:14px;"></div><div class="abs" style="left:1580.0px;top:39.8px;width:75.7px;height:68.2px;background:#e0e7ff;border-radius:14px;"></div><div class="abs" style="left:1020.0px;top:266.0px;width:636.0px;height:80.0px;background:#f4f6fd;"></div><div class="abs" style="left:1020.0px;top:426.0px;width:636.0px;height:80.0px;background:#f4f6fd;"></div><div class="abs" style="left:54.1px;top:671.2px;width:202.7px;height:75.6px;background:#e5e7eb;border-radius:13px;"></div><div class="abs" style="left:273.1px;top:671.2px;width:177.7px;height:75.6px;background:#e5e7eb;border-radius:13px;"></div><div class="abs" style="left:467.0px;top:671.2px;width:210.0px;height:75.6px;background:#e5e7eb;border-radius:13px;"></div><div class="abs" style="left:693.2px;top:671.2px;width:131.8px;height:75.6px;background:#e5e7eb;border-radius:13px;"></div><div class="abs" style="left:849.6px;top:671.7px;width:399.0px;height:74.5px;background:#fff;border:2px solid #d1d5db;border-radius:12px;box-sizing:border-box;"></div><div class="abs" style="left:1646.2px;top:845.0px;width:9.5px;height:260.0px;background:#c7d2fe;border-radius:5px;"></div><svg class="ov" width="1692" height="1424" viewBox="840 0 1692 1424"><circle cx="914" cy="84" r="7" fill="#e0524f"/><text x="949.86" y="94.50" font-size="28.84" fill="#4b5563" textLength="48.59" lengthAdjust="spacingAndGlyphs" stroke="#4b5563" stroke-width="0.3">Run</text><text x="1007.40" y="94.50" font-size="28.84" fill="#3f4756" font-weight="700" textLength="123.93" lengthAdjust="spacingAndGlyphs">#c1ccd391</text><rect x="1149.1" y="68.3" width="150.6" height="35.6" rx="17.8" fill="#a38bf3"/><text x="1165.70" y="94.30" font-size="24.72" fill="#fff" font-weight="700" textLength="117.63" lengthAdjust="spacingAndGlyphs">automated</text><g fill="#fff"><rect x="2246.5" y="61.9" width="3.1" height="24.2"/><rect x="2246.5" y="83.1" width="26.9" height="3"/><rect x="2251.8" y="70.6" width="4.6" height="13"/><rect x="2260" y="66" width="4.9" height="17.5"/><rect x="2268.2" y="76.5" width="5.2" height="7"/></g><text x="2285.59" y="83.50" font-size="28.84" fill="#fff" font-weight="700" textLength="84.24" lengthAdjust="spacingAndGlyphs">Report</text><g fill="#111827"><circle cx="2449.8" cy="74" r="2.9"/><circle cx="2458" cy="74" r="2.9"/><circle cx="2466.2" cy="74" r="2.9"/></g><text x="892.39" y="201.10" font-size="41.2" fill="#374151" font-weight="700" textLength="672.73" lengthAdjust="spacingAndGlyphs">Automated tests at 04 Aug 2023 21:18</text><path d="M1270.00,250.00 A183.5,183.5 0 1 1 1152.05,574.07 L1217.29,496.32 A82,82 0 1 0 1270.00,351.50 Z" fill="#69b87e" stroke="#fff" stroke-width="4" stroke-linejoin="round"/><path d="M1152.05,574.07 A183.5,183.5 0 0 1 1089.29,465.36 L1189.25,447.74 A82,82 0 0 0 1217.29,496.32 Z" fill="#d9686a" stroke="#fff" stroke-width="4" stroke-linejoin="round"/><path d="M1089.29,465.36 A183.5,183.5 0 0 1 1270.00,250.00 L1270.00,351.50 A82,82 0 0 0 1189.25,447.74 Z" fill="#e5c760" stroke="#fff" stroke-width="4" stroke-linejoin="round"/><filter id="ts" x="-20%" y="-40%" width="140%" height="180%"><feDropShadow dx="1" dy="2" stdDeviation="2" flood-color="#000" flood-opacity="0.55"/></filter><text x="1394.40" y="479.50" font-size="24" fill="#fff" font-weight="700" text-anchor="middle" filter="url(#ts)">61.1%</text><text x="1168.00" y="349.50" font-size="24" fill="#fff" font-weight="700" text-anchor="middle" filter="url(#ts)">27.8%</text><text x="1155.40" y="499.50" font-size="24" fill="#fff" font-weight="700" text-anchor="middle" filter="url(#ts)">11.1%</text><circle cx="1683" cy="304" r="12" fill="#69b87e"/><text x="1701.90" y="315.90" font-size="24" fill="#333" textLength="79.74" lengthAdjust="spacingAndGlyphs">Passed</text><circle cx="1683" cy="350" r="12" fill="#d9686a"/><text x="1701.91" y="361.90" font-size="24" fill="#333" textLength="64.41" lengthAdjust="spacingAndGlyphs">Failed</text><circle cx="1683" cy="396" r="12" fill="#e5c760"/><text x="1701.91" y="407.90" font-size="24" fill="#333" textLength="86.13" lengthAdjust="spacingAndGlyphs">Skipped</text><text x="1892.30" y="311.10" font-size="28.84" fill="#6b7280" font-weight="700" textLength="81.05" lengthAdjust="spacingAndGlyphs">Status</text><text x="1891.36" y="391.20" font-size="28.84" fill="#6b7280" font-weight="700" textLength="111.45" lengthAdjust="spacingAndGlyphs">Duration</text><text x="1892.30" y="470.80" font-size="28.84" fill="#6b7280" font-weight="700" textLength="66.13" lengthAdjust="spacingAndGlyphs">Tests</text><text x="1891.40" y="551.40" font-size="28.84" fill="#6b7280" font-weight="700" textLength="107.16" lengthAdjust="spacingAndGlyphs">Finished</text><circle cx="2104" cy="308.7" r="8" fill="#e0524f"/><text x="2121.66" y="319.00" font-size="28" fill="#dc4d48" font-weight="700" textLength="84.03" lengthAdjust="spacingAndGlyphs">FAILED</text><text x="2092.20" y="399.00" font-size="28.84" fill="#111827" textLength="84.87" lengthAdjust="spacingAndGlyphs" stroke="#111827" stroke-width="0.3">1m 52s</text><text x="2091.75" y="478.20" font-size="28" fill="#111827" textLength="28.89" lengthAdjust="spacingAndGlyphs" stroke="#111827" stroke-width="0.3">18</text><text x="2093.60" y="559.40" font-size="28" fill="#111827" textLength="242.32" lengthAdjust="spacingAndGlyphs" stroke="#111827" stroke-width="0.3">Aug 4, 2023 9:20 PM</text><text x="893.42" y="624.20" font-size="32.96" fill="#6366f1" textLength="230.25" lengthAdjust="spacingAndGlyphs" stroke="#6366f1" stroke-width="0.3">Switch to Suites</text><line x1="894.4" y1="638" x2="1124" y2="638" stroke="#6366f1" stroke-width="2" stroke-dasharray="6 4.16"/><text x="928.22" y="720.10" font-size="32.96" fill="#4b5563" textLength="97.97" lengthAdjust="spacingAndGlyphs" stroke="#4b5563" stroke-width="0.3">Passed</text><text x="1035.42" y="720.10" font-size="32" fill="#4cb77e" textLength="26.21" lengthAdjust="spacingAndGlyphs" stroke="#4cb77e" stroke-width="0.3">11</text><text x="1147.32" y="720.10" font-size="32.96" fill="#4b5563" textLength="84.22" lengthAdjust="spacingAndGlyphs" stroke="#4b5563" stroke-width="0.3">Failed</text><text x="1241.12" y="720.10" font-size="32" fill="#e0524f" textLength="15.57" lengthAdjust="spacingAndGlyphs" stroke="#e0524f" stroke-width="0.3">2</text><text x="1341.02" y="720.10" font-size="32.96" fill="#4b5563" textLength="117.29" lengthAdjust="spacingAndGlyphs" stroke="#4b5563" stroke-width="0.3">Skipped</text><text x="1466.61" y="720.10" font-size="32" fill="#e9a23b" textLength="15.79" lengthAdjust="spacingAndGlyphs" stroke="#e9a23b" stroke-width="0.3">5</text><path transform="translate(1566.7 688.8) scale(1.685)" d="M20 2H4c-1.1 0-1.99.9-1.99 2L2 22l4-4h14c1.1 0 2-.9 2-2V4c0-1.1-.9-2-2-2zm0 14H5.17l-.59.59-.58.58V4h16v12zm-9-4h2v2h-2zm0-6h2v4h-2z" fill="#4b5563"/><text x="1614.12" y="720.10" font-size="32" fill="#818cf8" textLength="15.68" lengthAdjust="spacingAndGlyphs" stroke="#818cf8" stroke-width="0.3">2</text><g fill="none" stroke="#9ca3af" stroke-width="3"><circle cx="1729.5" cy="705.5" r="9.3"/><line x1="1736.3" y1="712.3" x2="1745.5" y2="721.6"/></g><text x="1769.86" y="718.50" font-size="28.84" fill="#6b7280" textLength="85.61" lengthAdjust="spacingAndGlyphs" stroke="#6b7280" stroke-width="0.3">Search</text><text x="894.70" y="814.90" font-size="32.96" fill="#111" textLength="108.57" lengthAdjust="spacingAndGlyphs" stroke="#111" stroke-width="0.3">sort by:</text><text x="1010.80" y="814.90" font-size="32.96" fill="#6366f1" textLength="70.65" lengthAdjust="spacingAndGlyphs" stroke="#6366f1" stroke-width="0.3">suite</text><text x="1093.00" y="814.90" font-size="32" fill="#111" textLength="9.58" lengthAdjust="spacingAndGlyphs" stroke="#111" stroke-width="0.3">/</text><text x="1114.30" y="814.90" font-size="32.96" fill="#6366f1" textLength="118.38" lengthAdjust="spacingAndGlyphs" stroke="#6366f1" stroke-width="0.3">testcase</text><text x="1245.00" y="814.90" font-size="32" fill="#111" textLength="9.58" lengthAdjust="spacingAndGlyphs" stroke="#111" stroke-width="0.3">/</text><text x="1266.30" y="814.90" font-size="32.96" fill="#6366f1" textLength="92.87" lengthAdjust="spacingAndGlyphs" stroke="#6366f1" stroke-width="0.3">failure</text><line x1="1009.8" y1="828" x2="1082.4" y2="828" stroke="#6366f1" stroke-width="2" stroke-dasharray="6 3.51"/><line x1="1114.3" y1="828" x2="1233.4" y2="828" stroke="#6366f1" stroke-width="2" stroke-dasharray="6 3.43"/><line x1="1266.3" y1="828" x2="1359.2" y2="828" stroke="#6366f1" stroke-width="2" stroke-dasharray="6 3.66"/><clipPath id="lc"><rect x="880" y="840" width="1600" height="554"/></clipPath><g clip-path="url(#lc)"><circle cx="908" cy="881" r="11.6" fill="#4db67f"/><polyline points="901,881.6 906.3,886.3 915.4,875.6" fill="none" stroke="#fff" stroke-width="2.8"/><path transform="translate(938.1 860.9) scale(1.66)" d="M14 2H6c-1.1 0-1.99.9-1.99 2L4 20c0 1.1.89 2 1.99 2H18c1.1 0 2-.9 2-2V8l-6-6zM6 20V4h7v5h5v11H6z" fill="#6b7280"/><text x="994.35" y="888.00" font-size="28.84" fill="#6b7280" textLength="195.87" lengthAdjust="spacingAndGlyphs" stroke="#6b7280" stroke-width="0.3">e2e-examples...</text><text x="1226.60" y="891.70" font-size="32.96" fill="#0b0b0f" textLength="573.38" lengthAdjust="spacingAndGlyphs" stroke="#0b0b0f" stroke-width="0.3">should be able to read a response body</text><rect x="1817.2" y="866.1" width="150.5" height="35.6" rx="17.8" fill="#a38bf3"/><text x="1833.90" y="892.10" font-size="24.72" fill="#fff" font-weight="700" textLength="117.63" lengthAdjust="spacingAndGlyphs">automated</text><text x="2252.90" y="885.10" font-size="24.72" fill="#6b7280" textLength="72.22" lengthAdjust="spacingAndGlyphs" stroke="#6b7280" stroke-width="0.3">416 ms</text><circle cx="908" cy="945" r="11.6" fill="#4db67f"/><polyline points="901,945.6 906.3,950.3 915.4,939.6" fill="none" stroke="#fff" stroke-width="2.8"/><path transform="translate(938.1 924.9) scale(1.66)" d="M14 2H6c-1.1 0-1.99.9-1.99 2L4 20c0 1.1.89 2 1.99 2H18c1.1 0 2-.9 2-2V8l-6-6zM6 20V4h7v5h5v11H6z" fill="#6b7280"/><text x="994.35" y="952.00" font-size="28.84" fill="#6b7280" textLength="195.87" lengthAdjust="spacingAndGlyphs" stroke="#6b7280" stroke-width="0.3">e2e-examples...</text><text x="1226.60" y="955.70" font-size="32.96" fill="#0b0b0f" textLength="431.38" lengthAdjust="spacingAndGlyphs" stroke="#0b0b0f" stroke-width="0.3">should be able to upload files</text><rect x="1674.2" y="930.1" width="150.5" height="35.6" rx="17.8" fill="#a38bf3"/><text x="1690.90" y="956.10" font-size="24.72" fill="#fff" font-weight="700" textLength="117.63" lengthAdjust="spacingAndGlyphs">automated</text><text x="2252.90" y="949.10" font-size="24.72" fill="#6b7280" textLength="76.04" lengthAdjust="spacingAndGlyphs" stroke="#6b7280" stroke-width="0.3">468 ms</text><circle cx="908" cy="1009" r="11.6" fill="#4db67f"/><polyline points="901,1009.6 906.3,1014.3 915.4,1003.6" fill="none" stroke="#fff" stroke-width="2.8"/><path transform="translate(938.1 988.9) scale(1.66)" d="M14 2H6c-1.1 0-1.99.9-1.99 2L4 20c0 1.1.89 2 1.99 2H18c1.1 0 2-.9 2-2V8l-6-6zM6 20V4h7v5h5v11H6z" fill="#6b7280"/><text x="994.35" y="1016.00" font-size="28.84" fill="#6b7280" textLength="195.87" lengthAdjust="spacingAndGlyphs" stroke="#6b7280" stroke-width="0.3">e2e-examples...</text><text x="1224.62" y="1019.70" font-size="32.96" fill="#0b0b0f" textLength="389.15" lengthAdjust="spacingAndGlyphs" stroke="#0b0b0f" stroke-width="0.3">be able to mock responses</text><rect x="1630.0" y="994.1" width="150.5" height="35.6" rx="17.8" fill="#a38bf3"/><text x="1646.70" y="1020.10" font-size="24.72" fill="#fff" font-weight="700" textLength="117.63" lengthAdjust="spacingAndGlyphs">automated</text><text x="2252.01" y="1013.10" font-size="24.72" fill="#6b7280" textLength="72.52" lengthAdjust="spacingAndGlyphs" stroke="#6b7280" stroke-width="0.3">247 ms</text><circle cx="908" cy="1073" r="11.6" fill="#4db67f"/><polyline points="901,1073.6 906.3,1078.3 915.4,1067.6" fill="none" stroke="#fff" stroke-width="2.8"/><path transform="translate(938.1 1052.9) scale(1.66)" d="M14 2H6c-1.1 0-1.99.9-1.99 2L4 20c0 1.1.89 2 1.99 2H18c1.1 0 2-.9 2-2V8l-6-6zM6 20V4h7v5h5v11H6z" fill="#6b7280"/><text x="994.35" y="1080.00" font-size="28.84" fill="#6b7280" textLength="195.87" lengthAdjust="spacingAndGlyphs" stroke="#6b7280" stroke-width="0.3">e2e-examples...</text><text x="1224.56" y="1083.70" font-size="32.96" fill="#0b0b0f" textLength="243.10" lengthAdjust="spacingAndGlyphs" stroke="#0b0b0f" stroke-width="0.3">basic interaction</text><rect x="1483.0" y="1058.1" width="150.5" height="35.6" rx="17.8" fill="#a38bf3"/><text x="1499.70" y="1084.10" font-size="24.72" fill="#fff" font-weight="700" textLength="117.63" lengthAdjust="spacingAndGlyphs">automated</text><text x="2251.95" y="1077.10" font-size="24.72" fill="#6b7280" textLength="76.69" lengthAdjust="spacingAndGlyphs" stroke="#6b7280" stroke-width="0.3">698 ms</text><circle cx="908" cy="1137" r="11.6" fill="#4db67f"/><polyline points="901,1137.6 906.3,1142.3 915.4,1131.6" fill="none" stroke="#fff" stroke-width="2.8"/><path transform="translate(938.1 1116.9) scale(1.66)" d="M14 2H6c-1.1 0-1.99.9-1.99 2L4 20c0 1.1.89 2 1.99 2H18c1.1 0 2-.9 2-2V8l-6-6zM6 20V4h7v5h5v11H6z" fill="#6b7280"/><text x="994.35" y="1144.00" font-size="28.84" fill="#6b7280" textLength="195.87" lengthAdjust="spacingAndGlyphs" stroke="#6b7280" stroke-width="0.3">e2e-examples...</text><text x="1226.60" y="1147.70" font-size="32.96" fill="#0b0b0f" textLength="470.17" lengthAdjust="spacingAndGlyphs" stroke="#0b0b0f" stroke-width="0.3">should be able to use assertions</text><rect x="1713.0" y="1122.1" width="150.5" height="35.6" rx="17.8" fill="#a38bf3"/><text x="1729.70" y="1148.10" font-size="24.72" fill="#fff" font-weight="700" textLength="117.63" lengthAdjust="spacingAndGlyphs">automated</text><text x="2251.95" y="1141.10" font-size="24.72" fill="#6b7280" textLength="76.69" lengthAdjust="spacingAndGlyphs" stroke="#6b7280" stroke-width="0.3">834 ms</text><circle cx="908" cy="1201" r="11.6" fill="#4db67f"/><polyline points="901,1201.6 906.3,1206.3 915.4,1195.6" fill="none" stroke="#fff" stroke-width="2.8"/><path transform="translate(938.1 1180.9) scale(1.66)" d="M14 2H6c-1.1 0-1.99.9-1.99 2L4 20c0 1.1.89 2 1.99 2H18c1.1 0 2-.9 2-2V8l-6-6zM6 20V4h7v5h5v11H6z" fill="#6b7280"/><text x="994.35" y="1208.00" font-size="28.84" fill="#6b7280" textLength="195.87" lengthAdjust="spacingAndGlyphs" stroke="#6b7280" stroke-width="0.3">e2e-examples...</text><text x="1224.50" y="1211.70" font-size="32.96" fill="#0b0b0f" textLength="119.19" lengthAdjust="spacingAndGlyphs" stroke="#0b0b0f" stroke-width="0.3">has title</text><rect x="1359.0" y="1186.1" width="150.5" height="35.6" rx="17.8" fill="#a38bf3"/><text x="1375.70" y="1212.10" font-size="24.72" fill="#fff" font-weight="700" textLength="117.63" lengthAdjust="spacingAndGlyphs">automated</text><text x="2252.02" y="1205.10" font-size="24.72" fill="#6b7280" textLength="71.70" lengthAdjust="spacingAndGlyphs" stroke="#6b7280" stroke-width="0.3">719 ms</text><circle cx="908" cy="1265" r="7.7" fill="none" stroke="#efbe4c" stroke-width="8"/><path transform="translate(938.1 1244.9) scale(1.66)" d="M14 2H6c-1.1 0-1.99.9-1.99 2L4 20c0 1.1.89 2 1.99 2H18c1.1 0 2-.9 2-2V8l-6-6zM6 20V4h7v5h5v11H6z" fill="#6b7280"/><text x="994.35" y="1272.00" font-size="28.84" fill="#6b7280" textLength="195.87" lengthAdjust="spacingAndGlyphs" stroke="#6b7280" stroke-width="0.3">e2e-examples...</text><text x="1226.60" y="1275.70" font-size="32.96" fill="#0b0b0f" textLength="773.98" lengthAdjust="spacingAndGlyphs" stroke="#0b0b0f" stroke-width="0.3">Test-1: get started linkshould be visible (first skipped)</text><rect x="2015.3" y="1250.1" width="150.5" height="35.6" rx="17.8" fill="#a38bf3"/><text x="2032.00" y="1276.10" font-size="24.72" fill="#fff" font-weight="700" textLength="117.63" lengthAdjust="spacingAndGlyphs">automated</text><circle cx="908" cy="1329" r="7.7" fill="none" stroke="#efbe4c" stroke-width="8"/><path transform="translate(938.1 1308.9) scale(1.66)" d="M14 2H6c-1.1 0-1.99.9-1.99 2L4 20c0 1.1.89 2 1.99 2H18c1.1 0 2-.9 2-2V8l-6-6zM6 20V4h7v5h5v11H6z" fill="#6b7280"/><text x="994.35" y="1336.00" font-size="28.84" fill="#6b7280" textLength="195.87" lengthAdjust="spacingAndGlyphs" stroke="#6b7280" stroke-width="0.3">e2e-examples...</text><text x="1226.60" y="1339.70" font-size="32.96" fill="#0b0b0f" textLength="823.57" lengthAdjust="spacingAndGlyphs" stroke="#0b0b0f" stroke-width="0.3">Test-2: get started linkshould be visible (second skipped)</text><rect x="2064.9" y="1314.1" width="150.5" height="35.6" rx="17.8" fill="#a38bf3"/><text x="2081.60" y="1340.10" font-size="24.72" fill="#fff" font-weight="700" textLength="117.63" lengthAdjust="spacingAndGlyphs">automated</text><circle cx="908" cy="1393" r="7.7" fill="none" stroke="#efbe4c" stroke-width="8"/><path transform="translate(938.1 1372.9) scale(1.66)" d="M14 2H6c-1.1 0-1.99.9-1.99 2L4 20c0 1.1.89 2 1.99 2H18c1.1 0 2-.9 2-2V8l-6-6zM6 20V4h7v5h5v11H6z" fill="#6b7280"/><text x="994.35" y="1400.00" font-size="28.84" fill="#6b7280" textLength="195.87" lengthAdjust="spacingAndGlyphs" stroke="#6b7280" stroke-width="0.3">e2e-examples...</text><text x="1224.57" y="1403.70" font-size="32.96" fill="#0b0b0f" textLength="691.91" lengthAdjust="spacingAndGlyphs" stroke="#0b0b0f" stroke-width="0.3">[Need to fix] should allow me to add todo items</text><rect x="1932.7" y="1378.1" width="150.5" height="35.6" rx="17.8" fill="#a38bf3"/><text x="1949.40" y="1404.10" font-size="24.72" fill="#fff" font-weight="700" textLength="117.63" lengthAdjust="spacingAndGlyphs">automated</text></g></svg></div></div></body></html>
